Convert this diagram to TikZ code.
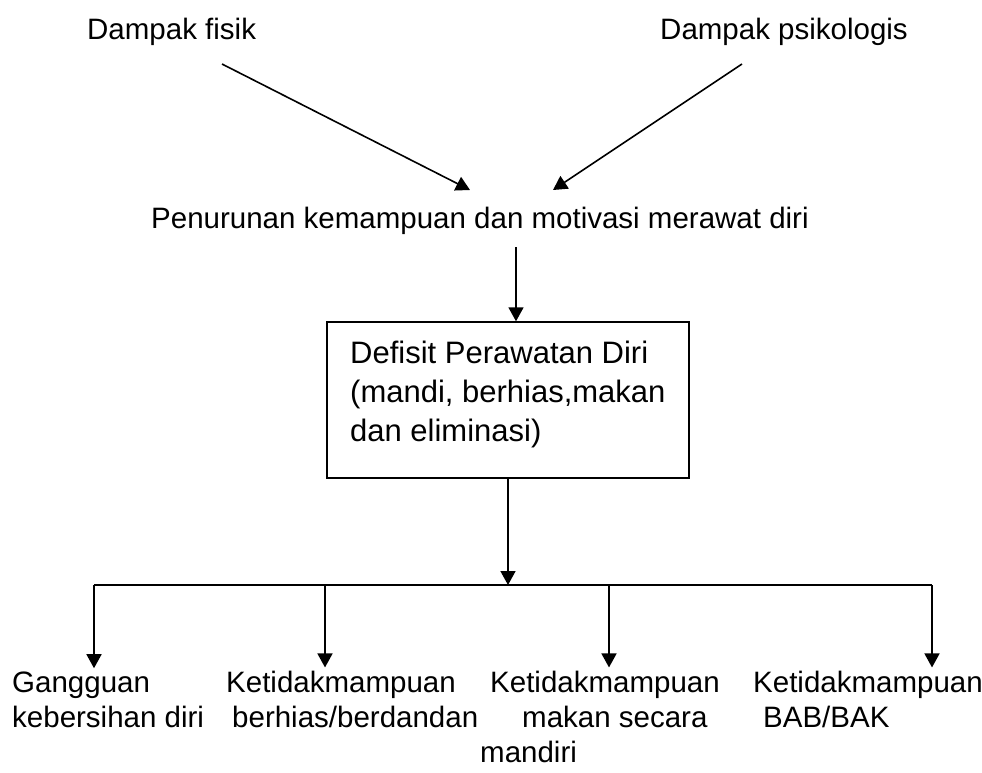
\documentclass[tikz,border=0pt]{standalone}
\usepackage{fontspec}
\setmainfont{Liberation Sans}
\usetikzlibrary{arrows.meta}
\begin{document}
\begin{tikzpicture}[x=1pt,y=-1pt,
  lbl/.style={inner sep=0pt, anchor=base west, font=\fontsize{29.5}{35}\selectfont},
  boxlbl/.style={inner sep=0pt, anchor=base west, font=\fontsize{31}{37}\selectfont},
  conn/.style={line width=1.6pt, -{Triangle[width=15pt,length=14pt]}},
  plain/.style={line width=1.6pt},
  boxst/.style={draw, line width=1.4pt, inner sep=0pt}]
\useasboundingbox (0,0) rectangle (982,772);
% top labels
\node[lbl] (fisik) at (87,39) {Dampak fisik};
\node[lbl] (psik) at (660,39) {Dampak psikologis};
\coordinate (fs) at (222,64);
\coordinate (ps) at (742,64);
\coordinate (ft) at (470,190);
\coordinate (pt) at (553,190);
\draw[conn] (fs) -- (ft);
\draw[conn] (ps) -- (pt);
% middle
\node[lbl] (pen) at (151,228) {Penurunan kemampuan dan motivasi merawat diri};
\node[boxst, minimum width=362pt, minimum height=156pt] (box) at (508,400) {};
\node[boxlbl] (b1) at (350,363) {Defisit Perawatan Diri};
\node[boxlbl] (b2) at (350,402) {(mandi, berhias,makan};
\node[boxlbl] (b3) at (350,441) {dan eliminasi)};
\coordinate (us) at (516,247);
\draw[conn] (us) -- (box.north -| us);
% bottom branch
\coordinate (hl) at (94,585);
\coordinate (j2) at (325,585);
\coordinate (jm) at (508,585);
\coordinate (j3) at (609,585);
\coordinate (hr) at (932,585);
\draw[plain] (hl) -- (hr);
\draw[conn] (box.south -| jm) -- (jm);
% bottom labels
\node[lbl] (g1) at (12,692) {Gangguan};
\node[lbl] (g2) at (12,727) {kebersihan diri};
\node[lbl] (h1) at (226,692) {Ketidakmampuan};
\node[lbl] (h2) at (232,727) {berhias/berdandan};
\node[lbl] (m1) at (490,692) {Ketidakmampuan};
\node[lbl] (m2) at (522,727) {makan secara};
\node[lbl] (m3) at (480,762) {mandiri};
\node[lbl] (e1) at (753,692) {Ketidakmampuan};
\node[lbl] (e2) at (763,727) {BAB/BAK};
\draw[conn] (hl) -- ([yshift=3pt]g1.north -| hl);
\draw[conn] (j2) -- ([yshift=3pt]h1.north -| j2);
\draw[conn] (j3) -- ([yshift=3pt]m1.north -| j3);
\draw[conn] (hr) -- ([yshift=3pt]e1.north -| hr);
\end{tikzpicture}
\end{document}
